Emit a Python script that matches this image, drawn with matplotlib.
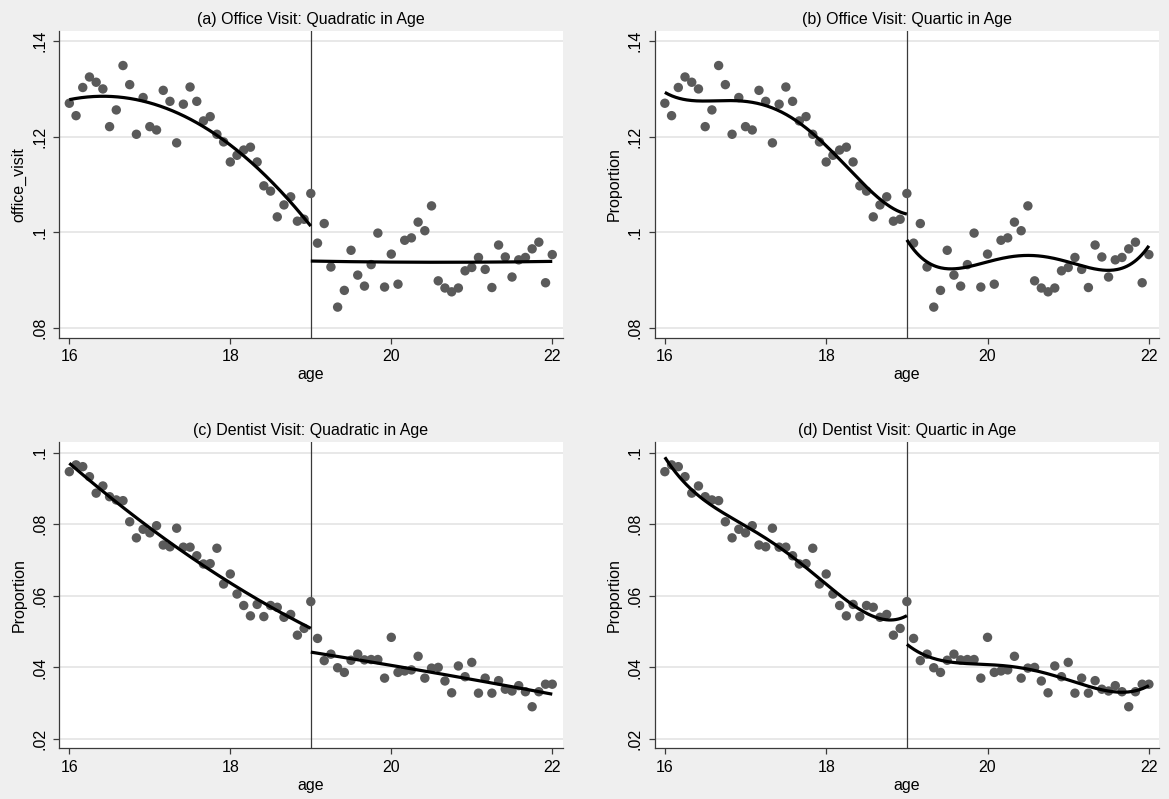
import matplotlib
matplotlib.use("Agg")

import matplotlib.pyplot as plt
import numpy as np
from matplotlib.ticker import FixedLocator, FuncFormatter

plt.rcParams["font.family"] = ["Liberation Sans", "DejaVu Sans"]

BG_COLOR = "#efefef"
GRID_COLOR = "#e4e4e4"
AXIS_COLOR = "#3a3a3a"
POINT_COLOR = "#5a5a5a"
FONT_SIZE = 11.5
CUTOFF = 19.0

# one point per month of age, 16.0 to 22.0
AGE = 16.0 + np.arange(73) / 12.0

OFFICE_VISIT = [
    0.1270, 0.1244, 0.1303, 0.1325, 0.1314, 0.1300, 0.1221, 0.1256, 0.1349, 0.1309,
    0.1205, 0.1282, 0.1221, 0.1214, 0.1297, 0.1274, 0.1187, 0.1268, 0.1304, 0.1274,
    0.1233, 0.1242, 0.1205, 0.1189, 0.1147, 0.1161, 0.1172, 0.1178, 0.1147, 0.1097,
    0.1086, 0.1032, 0.1057, 0.1074, 0.1023, 0.1027, 0.1081, 0.0977, 0.1018, 0.0927,
    0.0843, 0.0878, 0.0962, 0.0910, 0.0887, 0.0932, 0.0998, 0.0885, 0.0954, 0.0891,
    0.0983, 0.0988, 0.1021, 0.1003, 0.1055, 0.0898, 0.0883, 0.0875, 0.0883, 0.0919,
    0.0926, 0.0947, 0.0922, 0.0884, 0.0973, 0.0948, 0.0906, 0.0942, 0.0947, 0.0965,
    0.0979, 0.0894, 0.0953,
]

DENTIST_VISIT = [
    0.0947, 0.0966, 0.0961, 0.0933, 0.0887, 0.0907, 0.0877, 0.0868, 0.0866, 0.0807,
    0.0762, 0.0786, 0.0776, 0.0796, 0.0742, 0.0737, 0.0789, 0.0736, 0.0736, 0.0712,
    0.0689, 0.0690, 0.0733, 0.0633, 0.0661, 0.0605, 0.0573, 0.0544, 0.0576, 0.0542,
    0.0573, 0.0568, 0.0540, 0.0548, 0.0490, 0.0509, 0.0584, 0.0481, 0.0419, 0.0437,
    0.0399, 0.0386, 0.0420, 0.0437, 0.0421, 0.0422, 0.0422, 0.0370, 0.0484, 0.0386,
    0.0390, 0.0393, 0.0431, 0.0370, 0.0398, 0.0400, 0.0362, 0.0329, 0.0404, 0.0374,
    0.0414, 0.0328, 0.0370, 0.0328, 0.0363, 0.0339, 0.0334, 0.0349, 0.0332, 0.0290,
    0.0332, 0.0353, 0.0353,
]

PANELS = [
    {"title": "(a) Office Visit: Quadratic in Age", "y": OFFICE_VISIT, "deg": 2,
     "ylabel": "office_visit", "yticks": [0.08, 0.10, 0.12, 0.14], "ylim": (0.0779, 0.1422),
     "rect": (0.0505, 0.5774, 0.4308, 0.3842)},
    {"title": "(b) Office Visit: Quartic in Age", "y": OFFICE_VISIT, "deg": 4,
     "ylabel": "Proportion", "yticks": [0.08, 0.10, 0.12, 0.14], "ylim": (0.0779, 0.1422),
     "rect": (0.5599, 0.5774, 0.4318, 0.3842)},
    {"title": "(c) Dentist Visit: Quadratic in Age", "y": DENTIST_VISIT, "deg": 2,
     "ylabel": "Proportion", "yticks": [0.02, 0.04, 0.06, 0.08, 0.10], "ylim": (0.0174, 0.1029),
     "rect": (0.0505, 0.0635, 0.4308, 0.3829)},
    {"title": "(d) Dentist Visit: Quartic in Age", "y": DENTIST_VISIT, "deg": 4,
     "ylabel": "Proportion", "yticks": [0.02, 0.04, 0.06, 0.08, 0.10], "ylim": (0.0174, 0.1029),
     "rect": (0.5599, 0.0635, 0.4318, 0.3829)},
]


def stata_fmt(v, _pos=None):
    s = f"{v:.2f}".rstrip("0").rstrip(".")
    return s[1:] if s.startswith("0.") else s


def fit_segment(x, y, deg, lo, hi):
    poly = np.polynomial.Polynomial.fit(x, y, deg)
    xs = np.linspace(lo, hi, 200)
    return xs, poly(xs)


def draw_panel(fig, panel):
    ax = fig.add_axes(panel["rect"])
    y = np.asarray(panel["y"])
    # the month at exactly 19 goes with the left-hand fit
    left = AGE <= CUTOFF

    ax.scatter(AGE, y, s=46, color=POINT_COLOR, edgecolors="none", zorder=3)
    for mask, lo, hi in [(left, AGE.min(), CUTOFF), (~left, CUTOFF, AGE.max())]:
        xs, ys = fit_segment(AGE[mask], y[mask], panel["deg"], lo, hi)
        ax.plot(xs, ys, color="black", lw=2.3, zorder=4, solid_capstyle="butt")
    ax.axvline(CUTOFF, color=AXIS_COLOR, lw=0.9, zorder=2)

    ax.set_xlim(15.872, 22.129)
    ax.set_ylim(*panel["ylim"])
    ax.xaxis.set_major_locator(FixedLocator([16, 18, 20, 22]))
    ax.yaxis.set_major_locator(FixedLocator(panel["yticks"]))
    ax.yaxis.set_major_formatter(FuncFormatter(stata_fmt))
    ax.grid(axis="y", color=GRID_COLOR, lw=1.2, zorder=0)
    ax.set_axisbelow(True)

    for side in ("top", "right"):
        ax.spines[side].set_visible(False)
    for side in ("left", "bottom"):
        ax.spines[side].set_color(AXIS_COLOR)
        ax.spines[side].set_linewidth(0.9)
    ax.tick_params(length=4.5, width=0.9, color=AXIS_COLOR, labelsize=FONT_SIZE, pad=4)
    for lab in ax.get_yticklabels():
        lab.set_rotation(90)
        lab.set_va("center")

    ax.set_title(panel["title"], fontsize=FONT_SIZE, pad=5)
    ax.set_xlabel("age", fontsize=FONT_SIZE, labelpad=2)
    ax.set_ylabel(panel["ylabel"], fontsize=FONT_SIZE, labelpad=4)


def main():
    fig = plt.figure(figsize=(11.69, 7.99), dpi=100, facecolor=BG_COLOR)
    for panel in PANELS:
        draw_panel(fig, panel)
    fig.savefig("out.png", dpi=100, facecolor=BG_COLOR)
    plt.close(fig)


if __name__ == "__main__":
    main()
